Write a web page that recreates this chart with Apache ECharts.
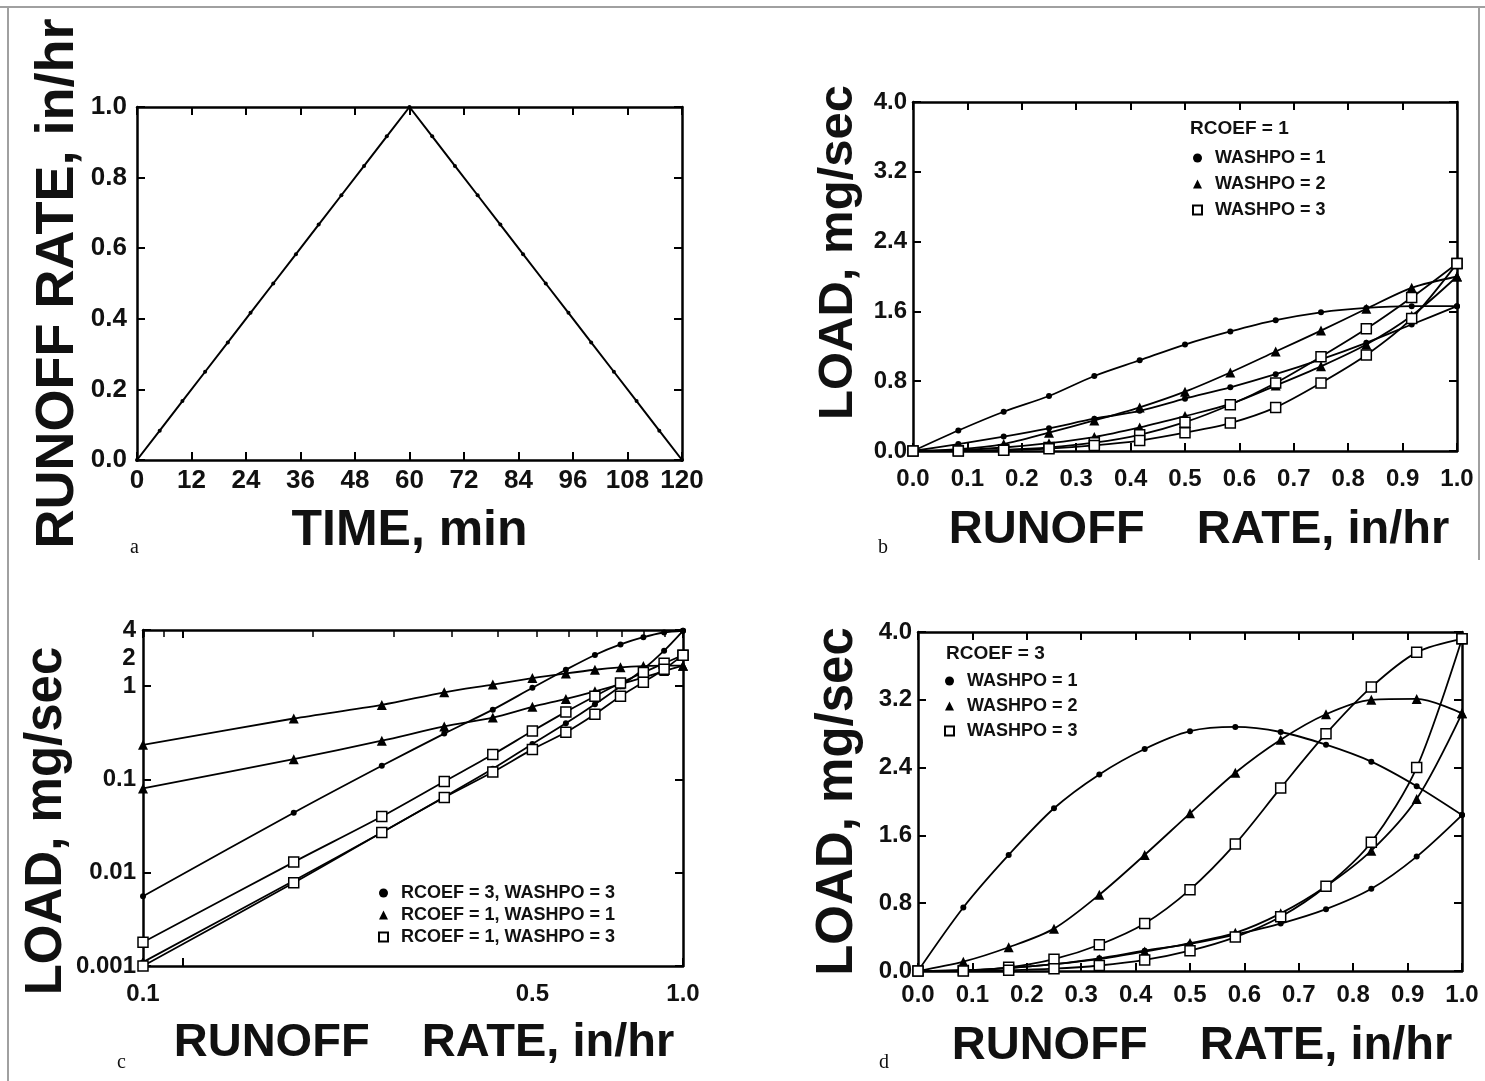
<!DOCTYPE html>
<html>
<head>
<meta charset="utf-8">
<script src="https://cdn.jsdelivr.net/npm/echarts@6/dist/echarts.min.js"></script>
<style>
html,body{margin:0;padding:0;background:#fff;}
#chart{width:1485px;height:1081px;}
</style>
</head>
<body>
<div id="chart"></div>
<script>
// ---------- Panel a: triangular hydrograph ----------
const timeMin = [0,5,10,15,20,25,30,35,40,45,50,55,60,65,70,75,80,85,90,95,100,105,110,115,120];
const runoffRate = [0,0.083,0.167,0.25,0.333,0.417,0.5,0.583,0.667,0.75,0.833,0.917,1.0,
                    0.917,0.833,0.75,0.667,0.583,0.5,0.417,0.333,0.25,0.167,0.083,0];

// runoff rate on rising and falling limbs (x of the loops)
const rateRise = [0,0.0833,0.1667,0.25,0.3333,0.4167,0.5,0.5833,0.6667,0.75,0.8333,0.9167,1.0];
const rateFall = [1.0,0.9167,0.8333,0.75,0.6667,0.5833,0.5,0.4167,0.3333,0.25,0.1667,0.0833,0];

// ---------- Panel b: RCOEF = 1 ----------
const r1w1Rise = [0,0.235,0.45,0.63,0.86,1.04,1.22,1.37,1.50,1.59,1.64,1.66,1.66];
const r1w1Fall = [1.66,1.45,1.24,1.05,0.88,0.73,0.60,0.46,0.37,0.26,0.165,0.08,0];
const r1w2Rise = [0,0.02,0.08,0.21,0.35,0.50,0.68,0.90,1.14,1.38,1.63,1.87,2.0];
const r1w2Fall = [2.0,1.55,1.22,0.97,0.75,0.54,0.40,0.27,0.16,0.09,0.04,0.01,0];
const r1w3Rise = [0,0.0018,0.013,0.040,0.095,0.185,0.33,0.53,0.78,1.08,1.40,1.76,2.15];
const r1w3Fall = [2.15,1.52,1.10,0.78,0.50,0.32,0.21,0.12,0.064,0.027,0.0078,0.0010,0];

// ---------- Panel d: RCOEF = 3 ----------
const r3w1Rise = [0,0.75,1.37,1.92,2.32,2.62,2.83,2.88,2.82,2.67,2.47,2.18,1.84];
const r3w1Fall = [1.84,1.35,0.97,0.73,0.56,0.43,0.32,0.24,0.15,0.08,0.035,0.01,0];
const r3w2Rise = [0,0.11,0.28,0.50,0.90,1.37,1.86,2.34,2.73,3.03,3.20,3.21,3.04];
const r3w2Fall = [3.04,2.03,1.42,1.00,0.68,0.45,0.33,0.23,0.14,0.08,0.035,0.01,0];
const r3w3Rise = [0,0.0056,0.044,0.14,0.31,0.56,0.96,1.50,2.16,2.80,3.35,3.76,3.92];
const r3w3Fall = [3.92,2.40,1.52,1.00,0.64,0.40,0.24,0.13,0.065,0.027,0.0082,0.0011,0];

// ---------- text ----------
const titleTime = 'TIME, min';
const titleRate = 'RUNOFF RATE, in/hr';
const titleRateWide = 'RUNOFF    RATE, in/hr';
const titleLoad = 'LOAD, mg/sec';
const legendB = ['WASHPO = 1', 'WASHPO = 2', 'WASHPO = 3'];
const legendC = ['RCOEF = 3, WASHPO = 3', 'RCOEF = 1, WASHPO = 1', 'RCOEF = 1, WASHPO = 3'];
const legendD = ['WASHPO = 1', 'WASHPO = 2', 'WASHPO = 3'];
const extraLogLabelsX = [0.5];
const extraLogLabelsY = [2];

const FONT = "'Liberation Sans', Arial, Helvetica, sans-serif";
const INK = '#111';

const chart = echarts.init(document.getElementById('chart'), null, {renderer: 'canvas'});

const axisLine = {show: true, onZero: false, lineStyle: {color: '#000', width: 2.5}};
const axisTick = (len) => ({show: true, inside: true, length: len || 8, lineStyle: {color: '#000', width: 2}});
const lbl = (size, margin, fmt) => ({show: true, fontFamily: FONT, fontWeight: 'bold', fontSize: size,
  color: INK, margin: margin, formatter: fmt, interval: 0, showMinLabel: true, showMaxLabel: true, hideOverlap: false});
const nameStyle = (size, padding) => ({fontFamily: FONT, fontWeight: 'bold', fontSize: size, color: INK, padding: padding || 0});

function linAxis(grid, pos, min, max, interval, label, name, nameGap, nameSize, namePad) {
  const a = {type: 'value', gridIndex: grid, position: pos, min, max, interval,
    axisLine, axisTick: axisTick(8), splitLine: {show: false}, axisLabel: label || {show: false}};
  if (name) { Object.assign(a, {name, nameLocation: 'middle', nameGap, nameTextStyle: nameStyle(nameSize, namePad)}); }
  return a;
}
function logAxis(grid, pos, min, max, label, name, nameGap, nameSize, namePad, minor) {
  const a = {type: 'log', logBase: 10, gridIndex: grid, position: pos, min, max,
    axisLine, axisTick: axisTick(8), splitLine: {show: false}, axisLabel: label || {show: false}};
  if (minor) { a.minorTick = {show: true, splitNumber: minor, length: 7, lineStyle: {color: '#000', width: 1.5}}; }
  if (name) { Object.assign(a, {name, nameLocation: 'middle', nameGap, nameTextStyle: nameStyle(nameSize, namePad)}); }
  return a;
}
const f1 = v => v.toFixed(1);
const fInt = v => String(Math.round(v));
const xMinC = rateRise[1];
const fLogX = v => (Math.abs(v - xMinC) < 1e-3 ? '0.1' : (Math.abs(v - 1) < 1e-6 ? '1.0' : ''));
const fLogY = v => String(+v.toPrecision(3));

// axis index layout: grid g -> bottom/left axis 2g, top/right axis 2g+1
const xAxis = [
  linAxis(0, 'bottom', 0, 120, 12, lbl(26, 8, fInt), titleTime, 46, 50),
  linAxis(0, 'top', 0, 120, 12),
  linAxis(1, 'bottom', 0, 1, 0.1, lbl(24, 16, f1), titleRateWide, 56, 47, [0, 0, 0, 28]),
  linAxis(1, 'top', 0, 1, 0.1),
  logAxis(2, 'bottom', xMinC, 1, lbl(24, 16, fLogX), titleRateWide, 54, 47, [0, 0, 0, 22]),
  logAxis(2, 'top', xMinC, 1, null, null, 0, 0, 0, 11),
  linAxis(3, 'bottom', 0, 1, 0.1, lbl(24, 12, f1), titleRateWide, 52, 47, [0, 0, 0, 24]),
  linAxis(3, 'top', 0, 1, 0.1)
];
const yAxis = [
  linAxis(0, 'left', 0, 1, 0.2, lbl(26, 10, f1), titleRate, 52, 54),
  linAxis(0, 'right', 0, 1, 0.2),
  linAxis(1, 'left', 0, 4, 0.8, lbl(24, 6, f1), titleLoad, 50, 49, [0, 0, 0, 48]),
  linAxis(1, 'right', 0, 4, 0.8),
  logAxis(2, 'left', 0.001, 4, lbl(24, 7, fLogY), titleLoad, 55, 51, [0, 46, 0, 0]),
  logAxis(2, 'right', 0.001, 4),
  linAxis(3, 'left', 0, 4, 0.8, lbl(24, 6, f1), titleLoad, 55, 51),
  linAxis(3, 'right', 0, 4, 0.8)
];

const grid = [
  {left: 137, top: 107, width: 545, height: 353},
  {left: 913, top: 102, width: 544, height: 349},
  {left: 143, top: 630, width: 540, height: 336},
  {left: 918, top: 632, width: 544, height: 339}
];

const SYM = {dot: ['circle', 6], tri: ['triangle', 10], sq: ['rect', 10]};
function loop(name, g, rise, fall, kind, logMode) {
  const mk = (xs, ys) => xs.map((x, i) => [x, ys[i]]).filter(p => !logMode || (p[0] > 0 && p[1] > 0));
  const hollow = kind === 'sq';
  const base = {
    type: 'line', name, xAxisIndex: 2 * g, yAxisIndex: 2 * g,
    symbol: SYM[kind][0], symbolSize: SYM[kind][1], smooth: 0.3, showAllSymbol: true,
    lineStyle: {color: '#000', width: 1.8},
    itemStyle: hollow ? {color: '#fff', borderColor: '#000', borderWidth: 1.5} : {color: '#000', borderColor: '#000', borderWidth: 0},
    emphasis: {disabled: true}, z: hollow ? 4 : 3
  };
  return [Object.assign({}, base, {data: mk(rateRise, rise)}), Object.assign({}, base, {data: mk(rateFall, fall)})];
}

const series = [
  {type: 'line', name: 'hydrograph', xAxisIndex: 0, yAxisIndex: 0,
   data: timeMin.map((t, i) => [t, runoffRate[i]]), symbol: 'circle', symbolSize: 4,
   showAllSymbol: true, itemStyle: {color: '#000'}, lineStyle: {color: '#000', width: 2}, emphasis: {disabled: true}},
  ...loop(legendB[0] + '|b', 1, r1w1Rise, r1w1Fall, 'dot'),
  ...loop(legendB[1] + '|b', 1, r1w2Rise, r1w2Fall, 'tri'),
  ...loop(legendB[2] + '|b', 1, r1w3Rise, r1w3Fall, 'sq'),
  ...loop(legendC[0] + '|c', 2, r3w3Rise, r3w3Fall, 'dot', true),
  ...loop(legendC[1] + '|c', 2, r1w1Rise, r1w1Fall, 'tri', true),
  ...loop(legendC[2] + '|c', 2, r1w3Rise, r1w3Fall, 'sq', true),
  ...loop(legendD[0] + '|d', 3, r3w1Rise, r3w1Fall, 'dot'),
  ...loop(legendD[1] + '|d', 3, r3w2Rise, r3w2Fall, 'tri'),
  ...loop(legendD[2] + '|d', 3, r3w3Rise, r3w3Fall, 'sq'),
  // extra tick labels on the log panel (0.5 on x, 2 on y)
  {type: 'scatter', name: 'logLabels', xAxisIndex: 4, yAxisIndex: 4, symbolSize: 1, silent: true,
   itemStyle: {color: 'rgba(0,0,0,0)', opacity: 1},
   label: {show: true, fontFamily: FONT, fontWeight: 'bold', fontSize: 24, color: INK, opacity: 1},
   data: [
     ...extraLogLabelsX.map(v => ({value: [v, 0.001], label: {position: 'bottom', distance: 16, formatter: String(v)}})),
     ...extraLogLabelsY.map(v => ({value: [xMinC, v], label: {position: 'left', distance: 7, formatter: String(v)}}))
   ]}
];

const legText = {fontFamily: FONT, fontWeight: 'bold', fontSize: 18, color: INK, padding: [0, 0, 0, 8]};
const icons = ['circle', 'triangle', 'rect'];
const mkLegend = (names, suffix, left, top, gap) => ({
  orient: 'vertical', left, top, padding: 0, itemWidth: 9, itemHeight: 9, itemGap: gap,
  selectedMode: false, textStyle: legText,
  formatter: n => n.split('|')[0],
  data: names.map((n, i) => ({name: n + '|' + suffix, icon: icons[i]}))
});

const txt = (x, y, text, font, align) => ({type: 'text', x, y, silent: true,
  style: {text, font, fill: INK, textAlign: align || 'left', textVerticalAlign: 'middle'}});
const gline = (x1, y1, x2, y2) => ({type: 'line', silent: true, shape: {x1, y1, x2, y2}, style: {stroke: '#a0a0a0', lineWidth: 2}});

const option = {
  animation: false,
  backgroundColor: '#fff',
  grid, xAxis, yAxis, series,
  legend: [
    mkLegend(legendB, 'b', 1192, 149, 8),
    mkLegend(legendC, 'c', 378, 884, 4),
    mkLegend(legendD, 'd', 944, 672, 7)
  ],
  graphic: [
    gline(0, 7, 1485, 7),
    gline(8, 7, 8, 1081),
    gline(1479, 7, 1479, 560),
    txt(1190, 129, 'RCOEF = 1', "bold 19px 'Liberation Sans', Arial, sans-serif"),
    txt(946, 654, 'RCOEF = 3', "bold 19px 'Liberation Sans', Arial, sans-serif"),
    txt(130, 548, 'a', "20px 'Liberation Serif', serif"),
    txt(878, 548, 'b', "20px 'Liberation Serif', serif"),
    txt(117, 1063, 'c', "20px 'Liberation Serif', serif"),
    txt(879, 1063, 'd', "20px 'Liberation Serif', serif")
  ]
};
chart.setOption(option);
</script>
</body>
</html>
